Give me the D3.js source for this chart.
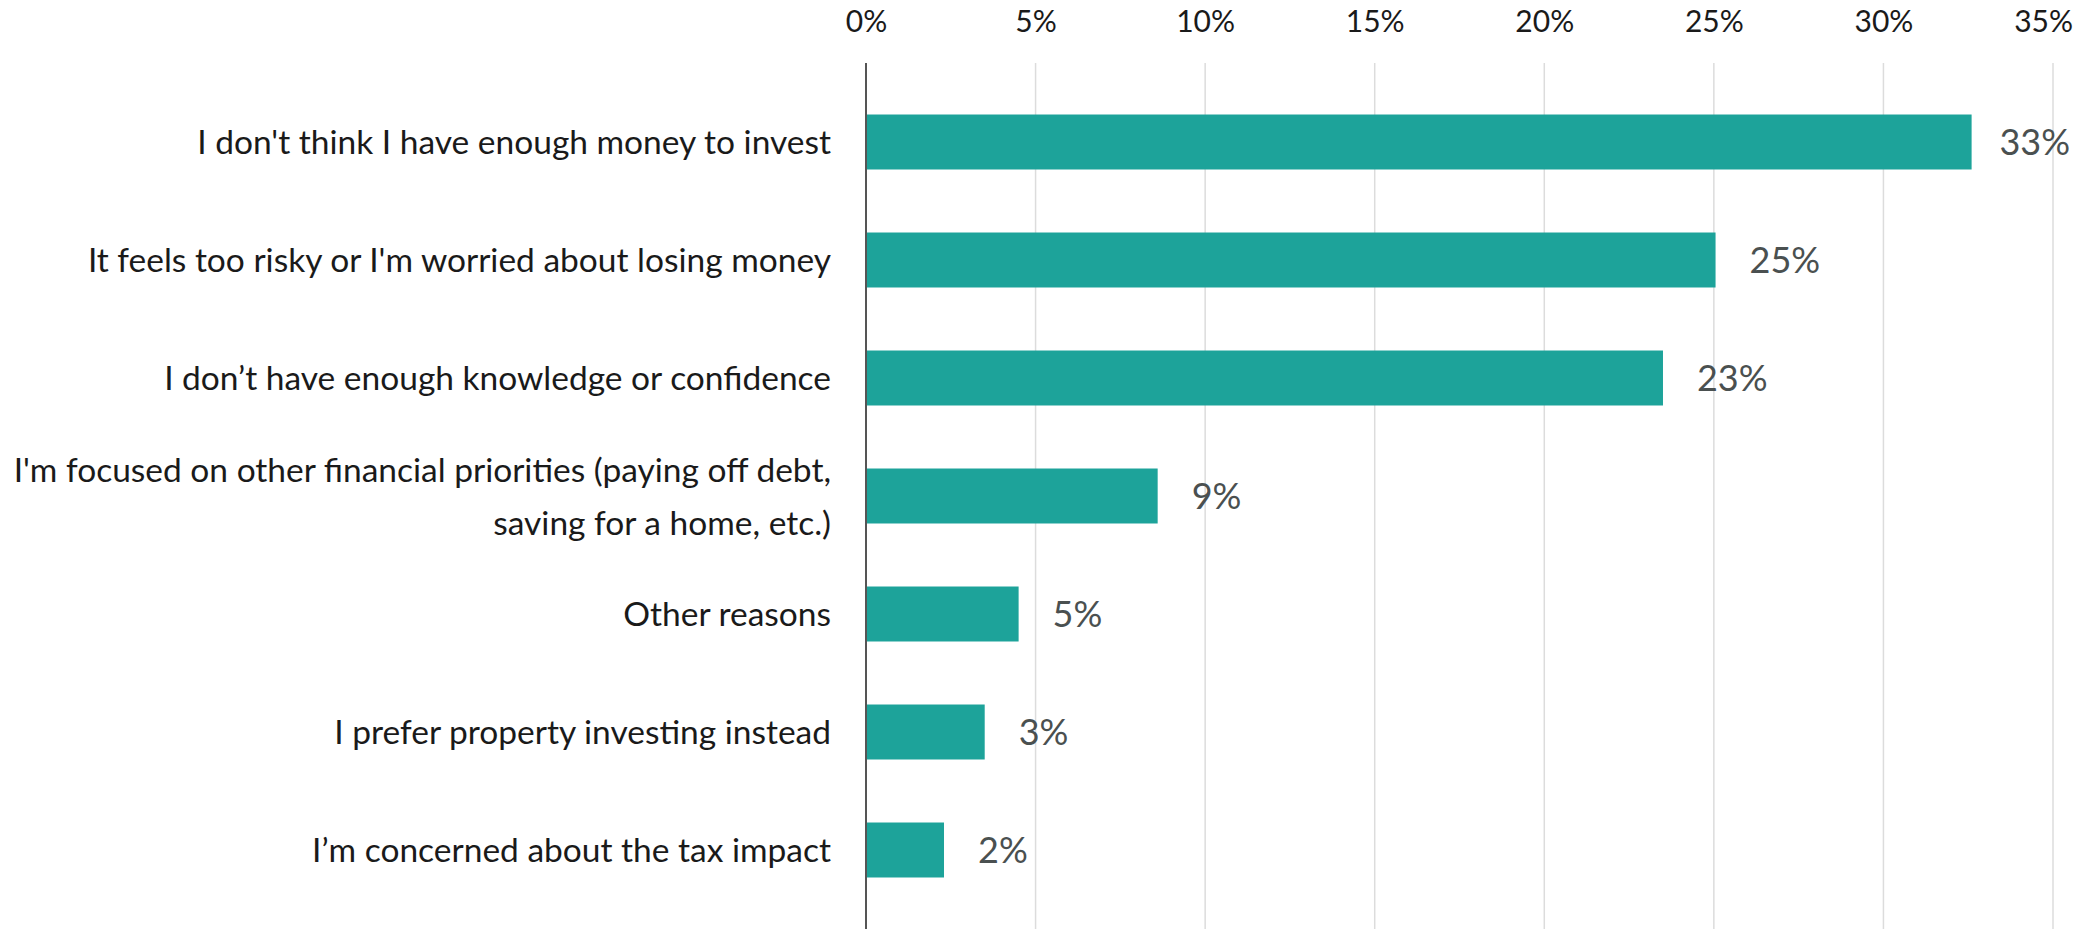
<!DOCTYPE html>
<html>
<head>
<meta charset="utf-8">
<script src="https://cdn.jsdelivr.net/npm/d3@7"></script>
<style>
  body { margin: 0; background: #fff; }
  text { font-family: Lato, "Open Sans", sans-serif; }
</style>
</head>
<body>
<script>
const categories = [
  "I don't think I have enough money to invest",
  "It feels too risky or I'm worried about losing money",
  "I don\u2019t have enough knowledge or confidence",
  "I'm focused on other financial priorities (paying off debt,\nsaving for a home, etc.)",
  "Other reasons",
  "I prefer property investing instead",
  "I\u2019m concerned about the tax impact"
];
const values = [32.6, 25.05, 23.5, 8.6, 4.5, 3.5, 2.3];
const valueLabels = ["33%", "25%", "23%", "9%", "5%", "3%", "2%"];
const tickValues = [0, 5, 10, 15, 20, 25, 30, 35];

const width = 2076, height = 929;

const svg = d3.select('body').append('svg')
  .attr('width', width)
  .attr('height', height);

const x = d3.scaleLinear().domain([0, 35]).range([866, 2053]);
const y = d3.scaleBand().domain(categories).range([83, 909]).paddingInner(0.534).paddingOuter(0.267);

// gridlines
svg.append('g')
  .selectAll('line')
  .data(tickValues.slice(1))
  .enter()
  .append('line')
  .attr('x1', d => x(d))
  .attr('x2', d => x(d))
  .attr('y1', 63)
  .attr('y2', 929)
  .attr('stroke', '#dcdcdc')
  .attr('stroke-width', 1.5);

// top axis labels only
const xAxis = svg.append('g')
  .attr('transform', 'translate(0,32)')
  .call(d3.axisTop(x).tickValues(tickValues).tickFormat(d => d + '%').tickSize(0).tickPadding(0));
xAxis.select('.domain').remove();
xAxis.selectAll('text')
  .attr('font-size', 30)
  .attr('fill', '#1a1a1a')
  .attr('font-family', 'Lato, sans-serif')
  .attr('dy', 0);
// keep the last tick label inside the frame
xAxis.selectAll('.tick text').each(function () {
  const w = this.getComputedTextLength();
  const tx = +this.parentNode.getAttribute('transform').match(/translate\(([\d.]+)/)[1];
  if (tx + w / 2 > width - 3) d3.select(this).attr('x', width - 3 - w / 2 - tx);
});

// bars
svg.append('g')
  .selectAll('rect')
  .data(values)
  .enter()
  .append('rect')
  .attr('x', x(0))
  .attr('y', (d, i) => y(categories[i]))
  .attr('width', d => x(d) - x(0))
  .attr('height', y.bandwidth())
  .attr('fill', '#1da39a');

// baseline
svg.append('line')
  .attr('x1', x(0)).attr('x2', x(0))
  .attr('y1', 63).attr('y2', 929)
  .attr('stroke', '#555')
  .attr('stroke-width', 2);

// value labels
svg.append('g')
  .selectAll('text')
  .data(values)
  .enter()
  .append('text')
  .attr('x', d => x(d) + 34)
  .attr('y', (d, i) => y(categories[i]) + y.bandwidth() / 2)
  .attr('dy', '0.36em')
  .attr('font-size', 36)
  .attr('fill', '#4a5050')
  .text((d, i) => valueLabels[i])
  .each(function (d) {
    const w = this.getComputedTextLength();
    if (x(d) + 34 + w > width - 6) d3.select(this).attr('x', width - 6 - w);
  });

// category labels
const cat = svg.append('g')
  .selectAll('text')
  .data(categories)
  .enter()
  .append('text')
  .attr('text-anchor', 'end')
  .attr('font-size', 33.5)
  .attr('fill', '#1a1a1a')
  .attr('transform', d => `translate(831,${y(d) + y.bandwidth() / 2})`);

cat.each(function (d) {
  const lines = d.split('\n');
  const t = d3.select(this);
  lines.forEach((l, j) => {
    t.append('tspan')
      .attr('x', 0)
      .attr('y', (j - (lines.length - 1) / 2) * 53)
      .attr('dy', '0.36em')
      .text(l);
  });
});
</script>
</body>
</html>
